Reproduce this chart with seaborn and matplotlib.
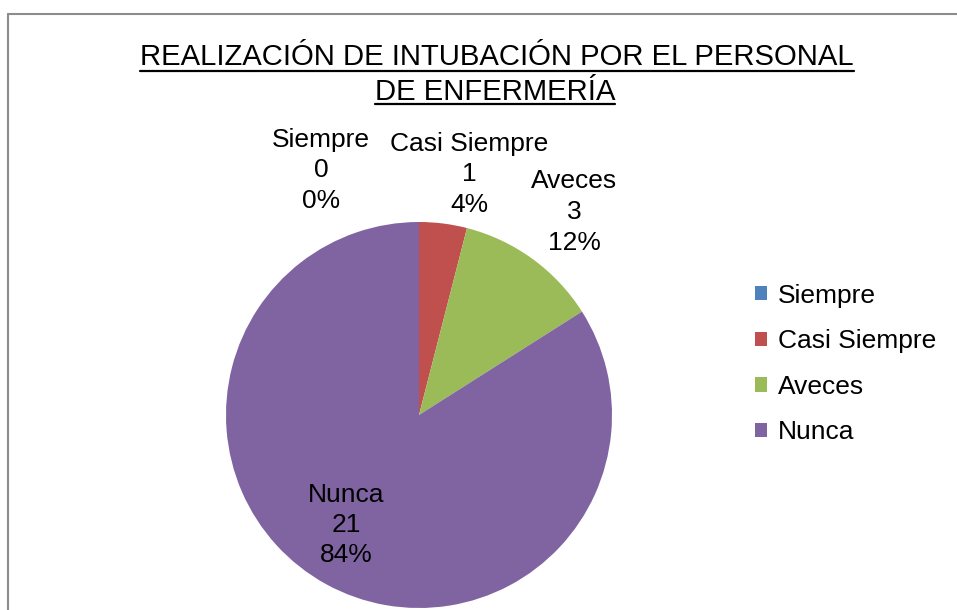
import matplotlib
matplotlib.use("Agg")
import matplotlib.pyplot as plt
from matplotlib.lines import Line2D
import seaborn as sns

categories = ["Siempre", "Casi Siempre", "Aveces", "Nunca"]
values = [0, 1, 3, 21]
percent_labels = ["0%", "4%", "12%", "84%"]
colors = ["#4F81BD", "#C0504D", "#9BBB59", "#8064A2"]
title_lines = ["REALIZACIÓN DE INTUBACIÓN POR EL PERSONAL", "DE ENFERMERÍA"]

sns.set_theme(style="white")
plt.rcParams["font.family"] = ["Liberation Sans", "DejaVu Sans"]
plt.rcParams["text.color"] = "black"
plt.rcParams["legend.labelcolor"] = "black"

W, H = 957, 610
fig = plt.figure(figsize=(W / 100, H / 100), dpi=100)
fig.patch.set_facecolor("white")

def fx(px):
    return px / W

def fy(py):
    return 1 - py / H

# pie axes: center (419, 415), radius 193 px
cx, cy, r = 419, 415, 193
ax = fig.add_axes([fx(cx - r), fy(cy + r), 2 * r / W, 2 * r / H])
wedges, _ = ax.pie(values, colors=colors, startangle=90, counterclock=False,
                   radius=1, wedgeprops=dict(linewidth=0))
ax.set_xlim(-1, 1)
ax.set_ylim(-1, 1)
ax.set_aspect("auto")
ax.axis("off")

fs = 19
line_gap = 30.5  # px between label lines
label_pos = [(321, 170), (469, 174), (574, 212), (346, 525)]
for cat, v, p, (lx, ly) in zip(categories, values, percent_labels, label_pos):
    for k, s in enumerate([cat, str(v), p]):
        yy = ly + (k - 1) * line_gap
        ax.text((lx - cx) / r, (cy - yy) / r, s, ha="center", va="center",
                fontsize=fs, color="black", clip_on=False)

# legend
leg = fig.legend(wedges, categories, loc="center left",
                 bbox_to_anchor=(fx(755), fy(364)), frameon=False, fontsize=fs,
                 handlelength=0.45, handleheight=0.45, handletextpad=0.42,
                 labelspacing=0.82, borderaxespad=0, borderpad=0)
for txt in leg.get_texts():
    txt.set_color("black")

# title with underline
renderer = fig.canvas.get_renderer()
for line, (tx, ty, uy) in zip(title_lines, [(497, 57, 71), (495, 92, 104)]):
    t = fig.text(fx(tx), fy(ty), line, ha="center", va="center", fontsize=21.1, color="black")
    bb = t.get_window_extent(renderer=renderer)
    fig.add_artist(Line2D([bb.x0 / W, bb.x1 / W], [fy(uy), fy(uy)],
                          transform=fig.transFigure, color="black", linewidth=1.6))

# frame (top and left edges visible)
frame_color = "#8C8C8C"
fig.add_artist(Line2D([fx(8), 1], [fy(14), fy(14)], transform=fig.transFigure,
                      color=frame_color, linewidth=1.5))
fig.add_artist(Line2D([fx(8), fx(8)], [fy(14), 0], transform=fig.transFigure,
                      color=frame_color, linewidth=1.5))

fig.savefig("out.png", dpi=100)
